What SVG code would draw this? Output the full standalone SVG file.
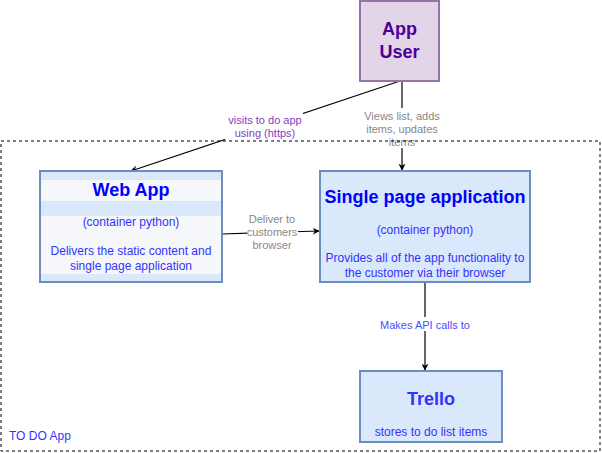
<svg xmlns="http://www.w3.org/2000/svg" width="602" height="453" viewBox="0 0 602 453">
<style>
text{font-family:"Liberation Sans",Arial,sans-serif;text-anchor:middle}
.title{font-size:18px;font-weight:bold;fill:#0000ff}
.sub{font-size:12px;fill:#3333ff}
.box{fill:#dae8fc;stroke:#6c8ebf;stroke-width:2}
.edge{stroke:#000;stroke-width:1.2;fill:none;marker-end:url(#arr)}
.lbl{font-size:11px}
.lblbg{fill:#fff}
</style>
<defs>
<marker id="arr" viewBox="0 0 10 10" refX="9" refY="5" markerWidth="7" markerHeight="7" orient="auto" markerUnits="userSpaceOnUse">
<path d="M0,0 L10,5 L0,10 L3,5 Z" fill="#000"/>
</marker>
</defs>
<rect width="602" height="453" fill="#fff"/>

<g id="connectors">
<g id="e-user-web">
<line class="edge" x1="400" y1="81" x2="131" y2="171"/>
<rect class="lblbg" x="225" y="112" width="78" height="28"/>
<text class="lbl" x="265" y="124" fill="#7f3fbf">visits to do app</text>
<text class="lbl" x="265" y="137" fill="#7f3fbf">using (https)</text>
</g>
<g id="e-user-spa">
<line class="edge" x1="402" y1="81" x2="402" y2="170"/>
<rect class="lblbg" x="362" y="108" width="80" height="40"/>
<text class="lbl" x="402" y="120" fill="#888888">Views list, adds</text>
<text class="lbl" x="402" y="133" fill="#888888">items, updates</text>
<text class="lbl" x="402" y="146" fill="#888888">items</text>
</g>
<g id="e-web-spa">
<line class="edge" x1="222" y1="234" x2="319" y2="231"/>
<rect class="lblbg" x="247" y="213" width="51" height="38"/>
<text class="lbl" x="272" y="223" fill="#888888">Deliver to</text>
<text class="lbl" x="272" y="236" fill="#888888">customers</text>
<text class="lbl" x="272" y="249" fill="#888888">browser</text>
</g>
<g id="e-spa-trello">
<line class="edge" x1="425" y1="282" x2="425" y2="370"/>
<rect class="lblbg" x="377" y="317" width="96" height="14"/>
<text class="lbl" x="425" y="329" fill="#4c4cff">Makes API calls to</text>
</g>
</g>

<g id="container">
<rect x="1" y="141" width="599" height="310" fill="none" stroke="#000" stroke-width="1" stroke-dasharray="3,3"/>
<text x="9" y="440" style="text-anchor:start;font-size:12px" fill="#3333ff">TO DO App</text>
</g>

<g id="app-user">
<rect x="360" y="1" width="79" height="80" fill="#e1d5e7" stroke="#9673a6" stroke-width="2"/>
<text x="399.5" y="35" style="font-size:18px;font-weight:bold" fill="#4c0099">App</text>
<text x="399.5" y="58" style="font-size:18px;font-weight:bold" fill="#4c0099">User</text>
</g>

<g id="web-app">
<rect class="box" x="40" y="171" width="182" height="111"/>
<rect x="41" y="180" width="180" height="21" fill="#f5f7fa"/>
<rect x="41" y="216" width="180" height="58" fill="#f5f7fa"/>
<text class="title" x="131" y="196">Web App</text>
<text class="sub" x="131" y="226">(container python)</text>
<text class="sub" x="131" y="255">Delivers the static content and</text>
<text class="sub" x="131" y="270">single page application</text>
</g>

<g id="spa">
<rect class="box" x="320" y="171" width="210" height="111"/>
<text class="title" x="425" y="203">Single page application</text>
<text class="sub" x="425" y="234">(container python)</text>
<text class="sub" x="425" y="262">Provides all of the app functionality to</text>
<text class="sub" x="425" y="277">the customer via their browser</text>
</g>

<g id="trello">
<rect class="box" x="360" y="371" width="142" height="71"/>
<text class="title" x="431" y="405" style="fill:#3333ff">Trello</text>
<text class="sub" x="431" y="436">stores to do list items</text>
</g>
</svg>
